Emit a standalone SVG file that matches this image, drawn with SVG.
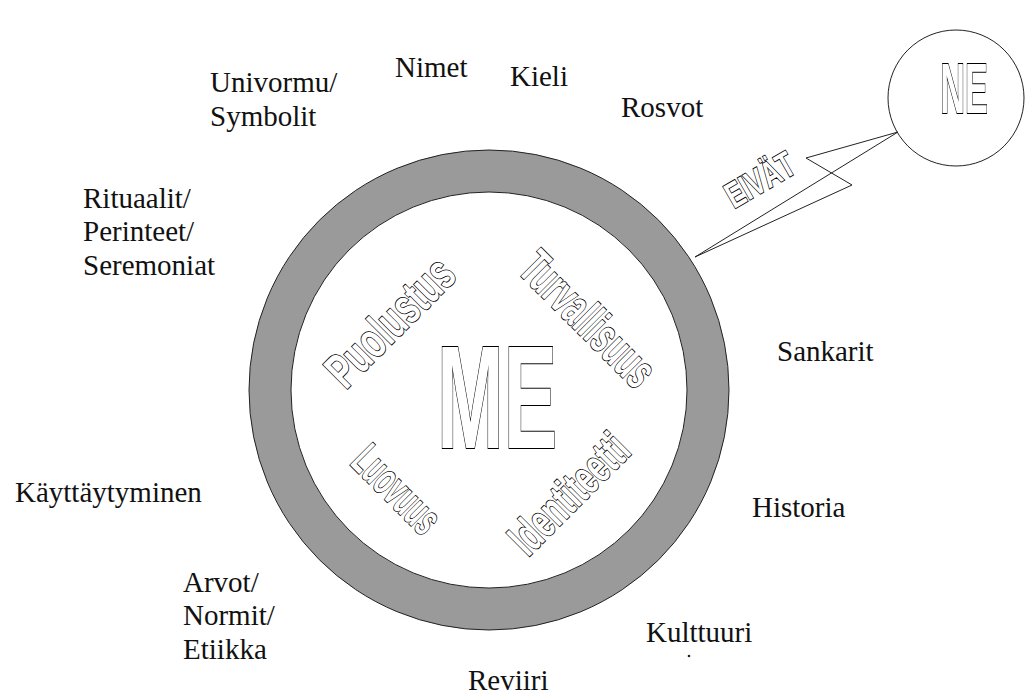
<svg xmlns="http://www.w3.org/2000/svg" width="1026" height="698" viewBox="0 0 1026 698">
<style>
.lbl{font-family:"Liberation Serif","Times New Roman",serif;font-size:29px;fill:#111}
.out{font-family:"Liberation Sans",Arial,sans-serif;font-weight:bold;fill:#fff;stroke:#000;stroke-width:1.8;paint-order:stroke;text-anchor:middle}
.ln{fill:none;stroke:#222;stroke-width:1}
</style>
<rect width="1026" height="698" fill="#fff"/>
<g id="me">
  <path d="M249,390 a240,240 0 1,0 480,0 a240,240 0 1,0 -480,0 Z M291,390 a198,198 0 1,1 396,0 a198,198 0 1,1 -396,0 Z" fill="#9a9a9a" fill-rule="evenodd" stroke="#222" stroke-width="1"/>
  <text class="out" font-size="147" transform="translate(497,448) scale(0.545,1)">ME</text>
  <text class="out" font-size="50" transform="translate(390,322) rotate(-45) scale(0.66,1) translate(0,17)">Puolustus</text>
  <text class="out" font-size="50" transform="translate(588,319) rotate(45) scale(0.58,1) translate(0,17)">Turvallisuus</text>
  <text class="out" font-size="46" transform="translate(397,489) rotate(45) scale(0.54,1) translate(0,16)">Luovuus</text>
  <text class="out" font-size="48" transform="translate(569,494) rotate(-45) scale(0.61,1) translate(0,16)">Identiteetti</text>
</g>
<g id="ne">
  <circle cx="956" cy="98" r="68" fill="#fff" stroke="#222" stroke-width="1"/>
  <text class="out" font-size="70" transform="translate(964,113) scale(0.49,1)">NE</text>
</g>
<g id="connectors">
  <polygon class="ln" points="695,257 898,132 806,158 852,185"/>
  <text class="out" font-size="36" transform="translate(760,180) rotate(-30) scale(0.7,1) translate(0,12)">EIVÄT</text>
</g>
<g id="labels">
  <text class="lbl" x="210" y="92">Univormu/</text>
  <text class="lbl" x="210" y="126">Symbolit</text>
  <text class="lbl" x="395" y="77">Nimet</text>
  <text class="lbl" x="510" y="86">Kieli</text>
  <text class="lbl" x="621" y="117">Rosvot</text>
  <text class="lbl" x="83" y="208">Rituaalit/</text>
  <text class="lbl" x="83" y="241">Perinteet/</text>
  <text class="lbl" x="83" y="275">Seremoniat</text>
  <text class="lbl" x="777" y="361">Sankarit</text>
  <text class="lbl" x="15" y="502">Käyttäytyminen</text>
  <text class="lbl" x="752" y="517">Historia</text>
  <text class="lbl" x="183" y="592">Arvot/</text>
  <text class="lbl" x="183" y="625">Normit/</text>
  <text class="lbl" x="183" y="659">Etiikka</text>
  <text class="lbl" x="646" y="642">Kulttuuri</text>
  <circle cx="689" cy="656" r="1.3" fill="#222"/>
  <text class="lbl" x="468" y="690">Reviiri</text>
</g>
</svg>
